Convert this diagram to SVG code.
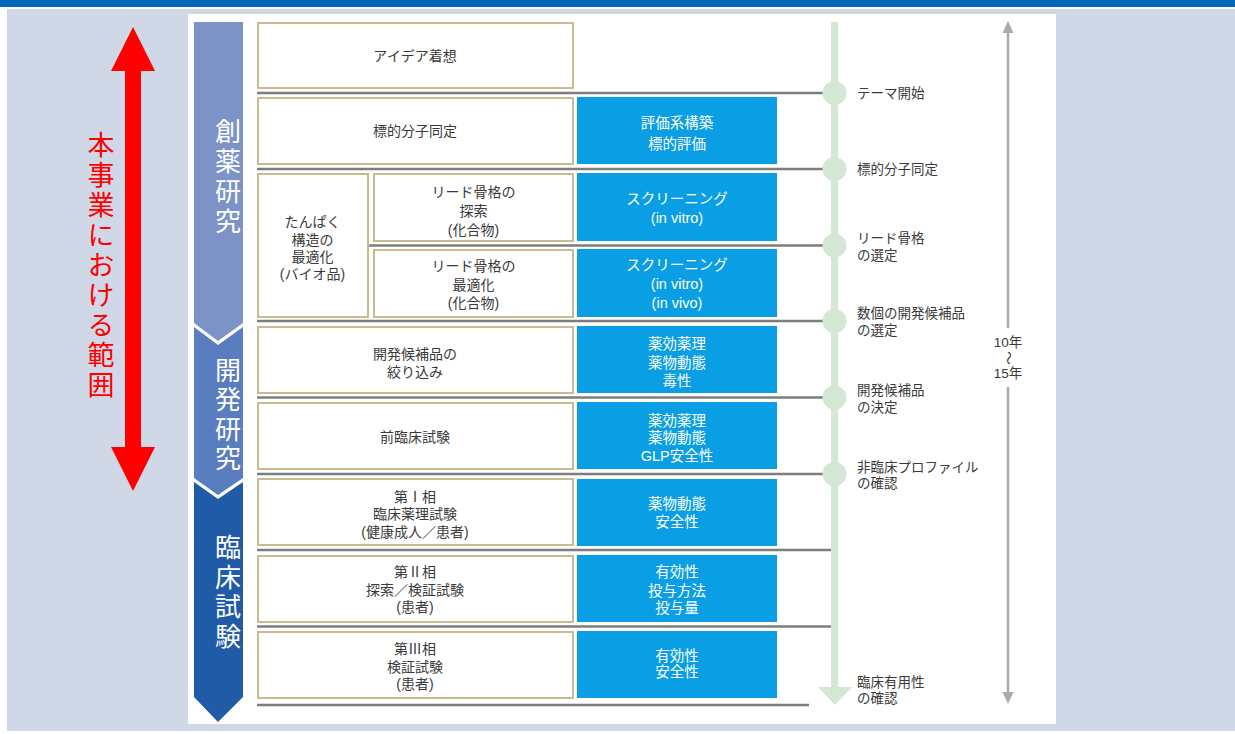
<svg xmlns="http://www.w3.org/2000/svg" width="1235" height="734" viewBox="0 0 1235 734">
<style>
text{font-family:"Noto Sans CJK JP","Noto Sans CJK SC",sans-serif;}
.bt,.wt,.ml{font-family:"Liberation Sans","Noto Sans CJK JP","Noto Sans CJK SC",sans-serif;}
.bx{fill:#fff;stroke:#c8bb8c;stroke-width:2;}
.bl{fill:#0a9fe4;}
.bt{font-size:14px;fill:#3a3a3a;text-anchor:middle;}
.wt{font-size:14.5px;fill:#fff;text-anchor:middle;}
.ml{font-size:13.5px;fill:#3a3a3a;}
.sec{font-size:26px;fill:#fff;writing-mode:vertical-rl;}
.red{font-size:27px;fill:#ff0000;writing-mode:vertical-rl;letter-spacing:3px;}
.rl{stroke:#7d7d7d;stroke-width:2.5;fill:none;}
.gc{fill:#d4e7d4;}
.ga{fill:#aaaaaa;}
</style>
<rect x="0" y="0" width="1235" height="734" fill="#ffffff"/>
<rect x="7" y="9" width="1228" height="722" fill="#d0d8e8"/>
<rect x="0" y="0" width="1235" height="7" fill="#0068b7"/>
<rect x="188" y="14" width="868" height="710" fill="#ffffff"/>

<g id="scope-arrow">
<polygon points="125,71 111,71 133,27 155,71 141,71 141,447 155,447 133,491 111,447 125,447" fill="#ff0000"/>
<text class="red" x="101" y="131.5">本事業における範囲</text>
</g>

<g id="phase-discovery">
<polygon points="194,22 243,22 243,323 218,341 194,323" fill="#7b93c7"/>
<text class="sec" x="228" y="118.5" style="letter-spacing:4px">創薬研究</text>
</g>
<g id="phase-development">
<polygon points="194,327 218,345 243,327 243,478 218,495 194,478" fill="#5a7dbf"/>
<text class="sec" x="228" y="357" style="letter-spacing:3.5px">開発研究</text>
</g>
<g id="phase-clinical">
<polygon points="194,482 218,499 243,482 243,697 218,722 194,697" fill="#1f5ba6"/>
<text class="sec" x="228" y="534.5" style="letter-spacing:3.5px">臨床試験</text>
</g>

<g id="connectors">
<line class="rl" x1="257" y1="93" x2="833" y2="93"/>
<line class="rl" x1="257" y1="169" x2="833" y2="169"/>
<line class="rl" x1="368" y1="245.5" x2="833" y2="245.5"/>
<line class="rl" x1="257" y1="321" x2="833" y2="321"/>
<line class="rl" x1="257" y1="397.5" x2="833" y2="397.5"/>
<line class="rl" x1="257" y1="474" x2="833" y2="474"/>
<line class="rl" x1="257" y1="550" x2="831" y2="550"/>
<line class="rl" x1="257" y1="626.5" x2="831" y2="626.5"/>
<line class="rl" x1="257" y1="705" x2="809" y2="705"/>
<rect class="gc" x="831" y="22" width="7" height="667"/>
<polygon class="gc" points="818,687 852,687 835,705"/>
<circle class="gc" cx="834.5" cy="93" r="12"/>
<circle class="gc" cx="834.5" cy="169" r="12"/>
<circle class="gc" cx="834.5" cy="245.5" r="12"/>
<circle class="gc" cx="834.5" cy="321" r="12"/>
<circle class="gc" cx="834.5" cy="397.5" r="12"/>
<circle class="gc" cx="834.5" cy="474" r="12"/>
<line x1="1008" y1="30" x2="1008" y2="328" stroke="#aaaaaa" stroke-width="2.5"/>
<line x1="1008" y1="387" x2="1008" y2="695" stroke="#aaaaaa" stroke-width="2.5"/>
<polygon class="ga" points="1002.5,33 1013.5,33 1008,21"/>
<polygon class="ga" points="1002.5,692 1013.5,692 1008,704"/>
</g>

<g id="row-idea">
<rect class="bx" x="258" y="23" width="315" height="65"/>
<text class="bt" x="415" y="61">アイデア着想</text>
</g>
<g id="row-target">
<rect class="bx" x="258" y="98" width="315" height="66"/>
<text class="bt" x="415" y="136">標的分子同定</text>
</g>
<g id="eval-target">
<rect class="bl" x="577" y="97" width="200" height="67"/>
<text class="wt"><tspan x="677" y="128">評価系構築</tspan><tspan x="677" y="149">標的評価</tspan></text>
</g>
<g id="protein-opt">
<rect class="bx" x="258" y="174" width="110" height="143"/>
<text class="bt"><tspan x="312.5" y="226.5">たんぱく</tspan><tspan x="312.5" y="244.5">構造の</tspan><tspan x="312.5" y="261.5">最適化</tspan><tspan x="312.5" y="278.5">(バイオ品)</tspan></text>
</g>
<g id="lead-search">
<rect class="bx" x="374" y="174" width="199" height="67"/>
<text class="bt"><tspan x="473.5" y="197">リード骨格の</tspan><tspan x="473.5" y="216">探索</tspan><tspan x="473.5" y="234.5">(化合物)</tspan></text>
</g>
<g id="lead-opt">
<rect class="bx" x="374" y="250" width="199" height="67"/>
<text class="bt"><tspan x="473.5" y="271">リード骨格の</tspan><tspan x="473.5" y="290">最適化</tspan><tspan x="473.5" y="307.5">(化合物)</tspan></text>
</g>
<g id="screen-1">
<rect class="bl" x="577" y="173" width="200" height="68"/>
<text class="wt"><tspan x="677" y="204">スクリーニング</tspan><tspan x="677" y="223">(in vitro)</tspan></text>
</g>
<g id="screen-2">
<rect class="bl" x="577" y="249" width="200" height="68"/>
<text class="wt"><tspan x="677" y="269.5">スクリーニング</tspan><tspan x="677" y="289">(in vitro)</tspan><tspan x="677" y="307.5">(in vivo)</tspan></text>
</g>
<g id="row-narrow">
<rect class="bx" x="258" y="327" width="315" height="66"/>
<text class="bt"><tspan x="415" y="359">開発候補品の</tspan><tspan x="415" y="377">絞り込み</tspan></text>
</g>
<g id="narrow-tests">
<rect class="bl" x="577" y="326" width="200" height="67"/>
<text class="wt"><tspan x="677" y="349">薬効薬理</tspan><tspan x="677" y="368">薬物動態</tspan><tspan x="677" y="386">毒性</tspan></text>
</g>
<g id="row-preclinical">
<rect class="bx" x="258" y="403" width="315" height="66"/>
<text class="bt" x="415" y="442">前臨床試験</text>
</g>
<g id="preclinical-tests">
<rect class="bl" x="577" y="402" width="200" height="67"/>
<text class="wt"><tspan x="677" y="425.5">薬効薬理</tspan><tspan x="677" y="443">薬物動態</tspan><tspan x="677" y="460.5">GLP安全性</tspan></text>
</g>
<g id="row-phase1">
<rect class="bx" x="258" y="479" width="315" height="66"/>
<text class="bt"><tspan x="415" y="502">第Ⅰ相</tspan><tspan x="415" y="519">臨床薬理試験</tspan><tspan x="415" y="537">(健康成人／患者)</tspan></text>
</g>
<g id="phase1-tests">
<rect class="bl" x="577" y="479" width="200" height="67"/>
<text class="wt"><tspan x="677" y="509">薬物動態</tspan><tspan x="677" y="527">安全性</tspan></text>
</g>
<g id="row-phase2">
<rect class="bx" x="258" y="556" width="315" height="66"/>
<text class="bt"><tspan x="415" y="577">第Ⅱ相</tspan><tspan x="415" y="594.5">探索／検証試験</tspan><tspan x="415" y="612">(患者)</tspan></text>
</g>
<g id="phase2-tests">
<rect class="bl" x="577" y="555" width="200" height="67"/>
<text class="wt"><tspan x="677" y="577">有効性</tspan><tspan x="677" y="595.5">投与方法</tspan><tspan x="677" y="613">投与量</tspan></text>
</g>
<g id="row-phase3">
<rect class="bx" x="258" y="632" width="315" height="66"/>
<text class="bt"><tspan x="415" y="654">第Ⅲ相</tspan><tspan x="415" y="672">検証試験</tspan><tspan x="415" y="689">(患者)</tspan></text>
</g>
<g id="phase3-tests">
<rect class="bl" x="577" y="631" width="200" height="67"/>
<text class="wt"><tspan x="677" y="660.5">有効性</tspan><tspan x="677" y="677">安全性</tspan></text>
</g>

<g id="milestones">
<text class="ml" x="857" y="98">テーマ開始</text>
<text class="ml" x="857" y="174">標的分子同定</text>
<text class="ml"><tspan x="857" y="243">リード骨格</tspan><tspan x="857" y="260">の選定</tspan></text>
<text class="ml"><tspan x="857" y="318">数個の開発候補品</tspan><tspan x="857" y="335">の選定</tspan></text>
<text class="ml"><tspan x="857" y="395">開発候補品</tspan><tspan x="857" y="412">の決定</tspan></text>
<text class="ml"><tspan x="857" y="472">非臨床プロファイル</tspan><tspan x="857" y="488">の確認</tspan></text>
<text class="ml"><tspan x="857" y="687">臨床有用性</tspan><tspan x="857" y="703">の確認</tspan></text>
</g>

<g id="duration">
<text class="ml" x="1008" y="347" text-anchor="middle">10年</text>
<text class="ml" x="0" y="0" text-anchor="middle" transform="translate(1008,358) rotate(90)" dy="4.5">〜</text>
<text class="ml" x="1008" y="378" text-anchor="middle">15年</text>
</g>
</svg>
